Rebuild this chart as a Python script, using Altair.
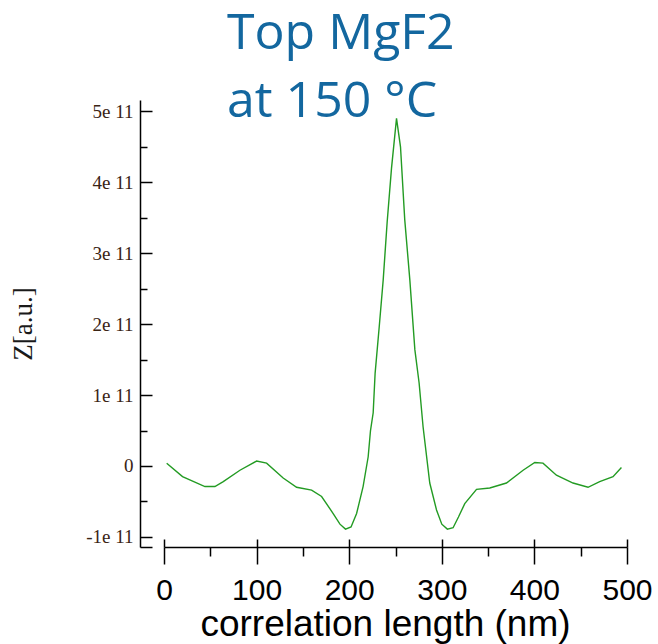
import altair as alt
import pandas as pd

# correlation length (nm)
lag_nm = [2.9, 20.0, 44.2, 55.0, 64.0, 82.0, 100.0, 110.8, 128.7, 143.2,
          159.4, 170.2, 182.7, 190.0, 196.0, 202.0, 208.0, 215.0, 220.5, 223.0,
          225.9, 228.0, 232.4, 236.7, 241.0, 245.7, 251.1, 255.4, 260.0, 265.5,
          270.9, 275.5, 279.8, 287.0, 294.3, 300.0, 306.0, 312.2, 318.0, 324.8,
          337.5, 351.8, 369.8, 387.8, 400.4, 409.3, 423.8, 441.7, 457.9, 470.5,
          484.9, 494.0]
# Z in units of 1e11
z_e11 = [0.04, -0.15, -0.29, -0.29, -0.22, -0.06, 0.07, 0.04, -0.17, -0.30,
         -0.34, -0.43, -0.67, -0.82, -0.89, -0.86, -0.67, -0.29, 0.13, 0.50,
         0.75, 1.31, 1.96, 2.62, 3.44, 4.20, 4.90, 4.50, 3.47, 2.62,
         1.64, 1.17, 0.55, -0.24, -0.62, -0.82, -0.89, -0.87, -0.72, -0.53,
         -0.33, -0.31, -0.24, -0.06, 0.05, 0.04, -0.13, -0.24, -0.30, -0.22,
         -0.15, -0.02]

x_major = [0, 100, 200, 300, 400, 500]
x_minor = [50, 150, 250, 350, 450]
y_major_e11 = [-1, 0, 1, 2, 3, 4, 5]
y_minor_e11 = [-0.5, 0.5, 1.5, 2.5, 3.5, 4.5]
y_domain_e11 = [-1.142, 5.16]
x_domain = [0, 500]

title_lines = ["Top MgF2", "at 150 °C"]

df = pd.DataFrame({"lag": lag_nm, "z": [v * 1e11 for v in z_e11]})

Y_MAJOR = [v * 1e11 for v in y_major_e11]
Y_MINOR = [v * 1e11 for v in y_minor_e11]
Y_DOMAIN = [v * 1e11 for v in y_domain_e11]

xs = alt.Scale(domain=x_domain, nice=False, zero=False)
ys = alt.Scale(domain=Y_DOMAIN, nice=False, zero=False)

W, H = 463, 447
YAX_OFF = 24  # y axis line sits left of x=0

base = alt.Chart(df)

main = base.mark_line(color="#239b23", strokeWidth=1.4).encode(
    x=alt.X("lag:Q", scale=xs, axis=alt.Axis(
        values=x_major, grid=False, domainColor="black", domainWidth=1.5,
        tickColor="black", tickWidth=1.5, tickSize=17,
        labelFont="Liberation Sans", labelFontSize=30, labelColor="black",
        labelPadding=11, labelFlush=False, labelOverlap=False,
        title="correlation length (nm)", titleFont="Liberation Sans",
        titleFontSize=37, titleFontWeight="normal", titleColor="black",
        titleX=221, titleY=88, titleBaseline="alphabetic", titleAlign="center")),
    y=alt.Y("z:Q", scale=ys, axis=alt.Axis(
        values=Y_MAJOR, grid=False, offset=YAX_OFF, ticks=False, tickSize=0,
        domainColor="black", domainWidth=1.5,
        labelExpr="datum.value == 0 ? '0' : round(datum.value/1e11) + 'e 11'",
        labelFont="Liberation Serif", labelFontSize=19, labelColor="#3a2414",
        labelPadding=7, labelOverlap=False, labelFlush=False,
        title="Z[a.u.]", titleFont="Liberation Serif", titleFontSize=27,
        titleFontWeight="normal", titleColor="#1a1a1a",
        titleX=-117, titleY=223.5, titleAlign="center", titleBaseline="middle")),
)

major_in = base.mark_line(strokeOpacity=0).encode(
    x=alt.X("lag:Q", scale=xs, axis=alt.Axis(
        values=x_major, grid=False, domain=False, labels=False, title=None,
        orient="bottom", offset=-8, tickSize=8, tickColor="black", tickWidth=1.5)),
    y=alt.Y("z:Q", scale=ys, axis=alt.Axis(
        values=Y_MAJOR + [Y_DOMAIN[0]], grid=False, domain=False, labels=False,
        title=None, orient="right", offset=-(W + YAX_OFF), tickSize=12,
        tickColor="black", tickWidth=1.5)),
)

minor = base.mark_line(strokeOpacity=0).encode(
    x=alt.X("lag:Q", scale=xs, axis=alt.Axis(
        values=x_minor, grid=False, domain=False, labels=False, title=None,
        orient="bottom", tickSize=9, tickColor="black", tickWidth=1.5)),
    y=alt.Y("z:Q", scale=ys, axis=alt.Axis(
        values=Y_MINOR, grid=False, domain=False, labels=False, title=None,
        orient="right", offset=-(W + YAX_OFF), tickSize=7,
        tickColor="black", tickWidth=1.5)),
)

chart = alt.layer(main, major_in, minor).resolve_axis(
    x="independent", y="independent"
).properties(
    width=W, height=H,
    autosize=alt.AutoSizeParams(type="none"),
    padding={"left": 164, "top": 100, "right": 31, "bottom": 97},
    background="white",
    title=alt.TitleParams(
        text=title_lines, font="Open Sans", fontSize=50, fontWeight="normal",
        color="#13679f", anchor="start", align="left", baseline="top",
        lineHeight=68, offset=0, dx=63, dy=27, frame="group"),
).configure_view(strokeWidth=0)

chart.save("out.html", embed_options={"renderer": "svg", "actions": False})
